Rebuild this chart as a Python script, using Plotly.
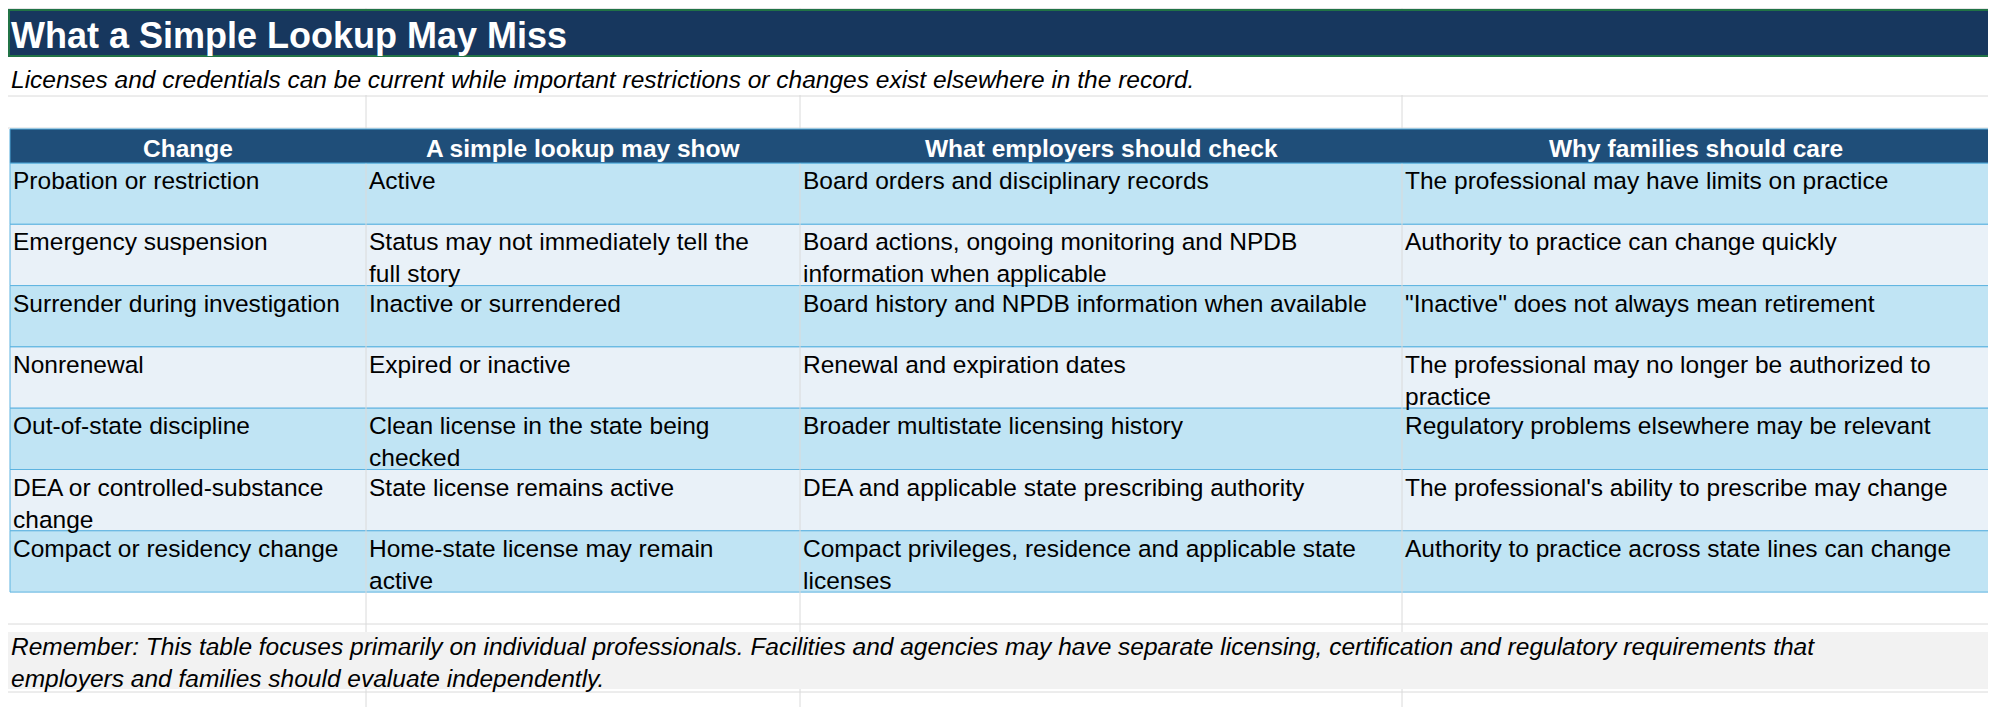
import plotly.graph_objects as go

title = "What a Simple Lookup May Miss"
subtitle = "Licenses and credentials can be current while important restrictions or changes exist elsewhere in the record."
headers = ["Change", "A simple lookup may show", "What employers should check", "Why families should care"]
changes = ["Probation or restriction", "Emergency suspension", "Surrender during investigation", "Nonrenewal",
           "Out-of-state discipline", "DEA or controlled-substance<br>change", "Compact or residency change"]
lookup_shows = ["Active", "Status may not immediately tell the<br>full story", "Inactive or surrendered",
                "Expired or inactive", "Clean license in the state being<br>checked", "State license remains active",
                "Home-state license may remain<br>active"]
employer_checks = ["Board orders and disciplinary records", "Board actions, ongoing monitoring and NPDB<br>information when applicable",
                   "Board history and NPDB information when available", "Renewal and expiration dates",
                   "Broader multistate licensing history", "DEA and applicable state prescribing authority",
                   "Compact privileges, residence and applicable state<br>licenses"]
family_reasons = ["The professional may have limits on practice", "Authority to practice can change quickly",
                  "\"Inactive\" does not always mean retirement", "The professional may no longer be authorized to<br>practice",
                  "Regulatory problems elsewhere may be relevant", "The professional's ability to prescribe may change",
                  "Authority to practice across state lines can change"]
footnote = ("Remember: This table focuses primarily on individual professionals. Facilities and agencies may have separate licensing, "
            "certification and regulatory requirements that<br>employers and families should evaluate independently.")

W, H = 1996, 707
col_x = [2, 358, 792, 1394, 1982]
grid_x = [358, 792, 1394, 1982]
row_top, row_h = 155, 61.3
font = "Liberation Sans, Arial"
fs = 24.5

fig = go.Figure()
shapes, ann = [], []

# spreadsheet background grid
shapes.append(dict(type="rect", x0=0, x1=W, y0=0, y1=4, fillcolor="#E6E6E6", line_width=0))
for gx in grid_x:
    shapes.append(dict(type="line", x0=gx, x1=gx, y0=0, y1=H, line=dict(color="#DADADA", width=1)))
for gy in [88, 120, 616, 684]:
    shapes.append(dict(type="line", x0=0, x1=W, y0=gy, y1=gy, line=dict(color="#DADADA", width=1)))

# footnote band
shapes.append(dict(type="rect", x0=0, x1=1982, y0=624, y1=681, fillcolor="#F2F2F2", line_width=0))

# title bar
shapes.append(dict(type="rect", x0=1, x1=1982, y0=2, y1=48, fillcolor="#17375E",
                   line=dict(color="#217346", width=2)))
ann.append(dict(x=2, y=27, text="<b>" + title + "</b>", xanchor="left", yanchor="middle", showarrow=False,
                borderpad=0, font=dict(family=font, size=36, color="white")))
shapes.append(dict(type="rect", x0=1, x1=1982, y0=49, y1=87, fillcolor="white", line_width=0))
ann.append(dict(x=2, y=71, text="<i>" + subtitle + "</i>", xanchor="left", yanchor="middle", showarrow=False,
                borderpad=0, font=dict(family=font, size=fs, color="black")))

# header
shapes.append(dict(type="rect", x0=col_x[0], x1=col_x[-1], y0=121, y1=row_top, fillcolor="#1F4E79",
                   line=dict(color="#4FA8DA", width=1)))
for i, h in enumerate(headers):
    ann.append(dict(x=(col_x[i] + col_x[i + 1]) / 2, y=(121 + row_top) / 2 + 2, text="<b>" + h + "</b>",
                    xanchor="center", yanchor="middle", showarrow=False,
                    font=dict(family=font, size=fs, color="white")))

# body rows
cols = [changes, lookup_shows, employer_checks, family_reasons]
for r in range(len(changes)):
    y0 = row_top + r * row_h
    shapes.append(dict(type="rect", x0=col_x[0], x1=col_x[-1], y0=y0, y1=y0 + row_h, layer="below",
                       fillcolor="#C0E4F4" if r % 2 == 0 else "#E9F1F8",
                       line=dict(color="#5DB3E0", width=1)))
    for c, col in enumerate(cols):
        ann.append(dict(x=col_x[c] + 2, y=y0 + 3, text=col[r], xanchor="left", yanchor="top", align="left",
                        borderpad=0, showarrow=False, font=dict(family=font, size=fs, color="black")))

ann.append(dict(x=2, y=624, text="<i>" + footnote + "</i>", xanchor="left", yanchor="top", align="left",
                borderpad=0, showarrow=False, font=dict(family=font, size=fs, color="black")))

fig.update_layout(
    width=W, height=H, margin=dict(l=0, r=0, t=0, b=0),
    plot_bgcolor="white", paper_bgcolor="white",
    xaxis=dict(range=[0, W], visible=False, fixedrange=True),
    yaxis=dict(range=[H, 0], visible=False, fixedrange=True),
    shapes=shapes, annotations=ann, showlegend=False,
)
fig.write_html("out.html")
